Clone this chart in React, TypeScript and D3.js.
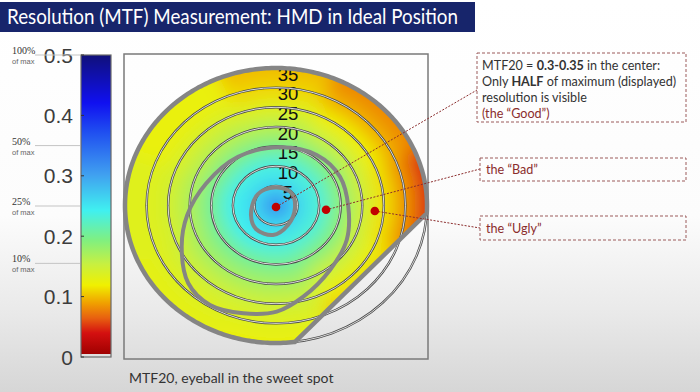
import React from 'react';
import * as d3 from 'd3';

const W = 700;
const H = 392;

// colour bar
const barTicks = [0, 0.1, 0.2, 0.3, 0.4, 0.5];
const pctLabels = ['100%', '50%', '25%', '10%'];
const pctValues = [0.5, 0.35, 0.25, 0.155];

// jet-like palette
const paletteValues = [0, 0.035, 0.06, 0.085, 0.115, 0.15, 0.19, 0.24, 0.3, 0.37, 0.42, 0.5];
const paletteColors = ['#a00000', '#d41010', '#e86010', '#f0a000', '#f0f000', '#c8f040', '#80f080', '#40f0f0', '#40a0f0', '#2050f0', '#1010f0', '#10107a'];

// MTF20 map: eccentricity bands (deg) x 8 directions, clockwise from north
const bandEdges = [0, 3, 7.5, 12.5, 17.5, 22.5, 27.5, 32.5, 40];
const mtfN = [0.33, 0.26, 0.235, 0.195, 0.16, 0.13, 0.105, 0.095];
const mtfNE = [0.33, 0.26, 0.23, 0.19, 0.15, 0.115, 0.09, 0.075];
const mtfE = [0.33, 0.26, 0.23, 0.185, 0.145, 0.11, 0.08, 0.045];
const mtfSE = [0.33, 0.26, 0.23, 0.19, 0.15, 0.12, 0.1, 0.085];
const mtfS = [0.33, 0.26, 0.235, 0.2, 0.17, 0.145, 0.13, 0.12];
const mtfSW = [0.33, 0.26, 0.24, 0.2, 0.17, 0.145, 0.13, 0.125];
const mtfW = [0.33, 0.26, 0.24, 0.2, 0.165, 0.14, 0.13, 0.13];
const mtfNW = [0.33, 0.26, 0.235, 0.195, 0.16, 0.135, 0.12, 0.12];
const mtfByDir = [mtfN, mtfNE, mtfE, mtfSE, mtfS, mtfSW, mtfW, mtfNW];

// eccentricity rings (deg)
const rings = [5, 10, 15, 20, 25, 30, 35];

// clipped edge of the field of view: direction and distance of the chord (deg)
const cutAngle = -43;
const cutDist = 26.9;

// contour loops, in degrees (x right, y up)
const smallLoop = [[0.23, 4.58], [3.48, 3.31], [4.4, -0.64], [2.78, -4.96], [-0.7, -7.51], [-4.64, -5.98], [-5.8, -2.42], [-4.64, 2.29], [-2.55, 4.07]];
const bigLoop = [[0.93, 14.81], [9.43, 12.85], [14.84, 7.33], [16.76, -0.31], [16.39, -8.78], [12.52, -16.41], [6.33, -23.21], [0.16, -27.02], [-7.58, -27.43], [-15.3, -25.32], [-20.33, -19.8], [-21.86, -10.48], [-20.6, -2.5], [-16.2, 5.6], [-8.8, 12.4]];

// annotated points (deg) and their notes
const pointNames = ['Good', 'Bad', 'Ugly'];
const pointX = [0, 11.6, 22.9];
const pointY = [-0.4, -1.1, -1.4];
const noteAnchorX = [477, 480, 480];
const noteAnchorY = [90, 169, 228];

const xScale = d3.scaleLinear().domain([-35, 35]).range([125, 427]);
const yScale = d3.scaleLinear().domain([-35, 35]).range([343, 68]);
const cScale = d3.scaleLinear().domain([0, 0.5]).range([357, 55]);
const color = d3.scaleLinear<string>().domain(paletteValues).range(paletteColors).interpolate(d3.interpolateRgb);

const cx = xScale(0);
const cy = yScale(0);
const kx = xScale(1) - xScale(0);
const ky = yScale(0) - yScale(1);

const toPx = (p: number[]): [number, number] => [xScale(p[0]), yScale(p[1])];
const loopLine = d3.line().curve(d3.curveCatmullRomClosed.alpha(0.5));

// field-of-view outline: 35 deg circle minus the chord
const rad = Math.PI / 180;
const half = Math.acos(cutDist / 35) / rad;
const a0 = cutAngle + half;
const a1 = cutAngle - half + 360;
const regionPts = d3.range(a0, a1, 1).concat([a1]).map((a) => toPx([35 * Math.cos(a * rad), 35 * Math.sin(a * rad)]));
const regionPath = d3.line()(regionPts) + 'Z';

const cellArc = d3.arc();

export default function App() {
  const cells: { d: string; fill: string }[] = [];
  mtfByDir.forEach((vals, i) => {
    vals.forEach((v, j) => {
      cells.push({
        d: cellArc({
          innerRadius: bandEdges[j],
          outerRadius: bandEdges[j + 1],
          startAngle: (i * 45 - 23) * rad,
          endAngle: (i * 45 + 23) * rad,
        }) as string,
        fill: color(v),
      });
    });
  });

  const barTop = cScale(0.5);
  const barBottom = cScale(0);

  return (
    <svg width={W} height={H} style={{ position: 'absolute', left: 0, top: 0, display: 'block' }}>
      <defs>
        <linearGradient id="bg" x1="0" y1="0" x2="0" y2="1">
          <stop offset="0" stopColor="#ffffff" />
          <stop offset="0.55" stopColor="#fcfcfc" />
          <stop offset="0.8" stopColor="#e9e9e9" />
          <stop offset="1" stopColor="#d6d6d6" />
        </linearGradient>
        <linearGradient id="bar" x1="0" y1="1" x2="0" y2="0">
          {paletteValues.map((v, i) => (
            <stop key={i} offset={v / 0.5} stopColor={paletteColors[i]} />
          ))}
        </linearGradient>
        <clipPath id="region">
          <path d={regionPath} />
        </clipPath>
        <filter id="soft" x="-20%" y="-20%" width="140%" height="140%">
          <feGaussianBlur stdDeviation="2.1" />
        </filter>
      </defs>

      <rect width={W} height={H} fill="url(#bg)" />

      {/* title banner */}
      <rect x={0} y={2} width={475} height={30} fill="#17256b" />
      <text x={7} y={24} fill="#ffffff" fontFamily="Lato" fontSize={20.5} textLength={451} lengthAdjust="spacingAndGlyphs">
        Resolution (MTF) Measurement: HMD in Ideal Position
      </text>

      {/* colour bar */}
      <rect x={81} y={barTop} width={30} height={barBottom - barTop - 3} fill="url(#bar)" />
      <rect x={81} y={barTop} width={30} height={barBottom - barTop} fill="none" stroke="#6a6a6a" strokeWidth={1.2} />
      {barTicks.map((t) => (
        <g key={t}>
          <line x1={81} x2={84} y1={cScale(t)} y2={cScale(t)} stroke="#333" strokeWidth={1} />
          <text x={73} y={cScale(t)} dy="0.36em" textAnchor="end" fontFamily="Liberation Sans" fontSize={21} fill="#3c3c3c">
            {t === 0 ? '0' : t.toFixed(1)}
          </text>
        </g>
      ))}
      {pctLabels.map((p, i) => (
        <g key={p}>
          <line x1={35} x2={80} y1={cScale(pctValues[i])} y2={cScale(pctValues[i])} stroke="#c4c4c4" strokeWidth={1} />
          <text x={12} y={cScale(pctValues[i]) - 1} fontFamily="Liberation Serif" fontSize={10} fill="#333">{p}</text>
          <text x={12} y={cScale(pctValues[i]) + 9} fontFamily="Liberation Sans" fontSize={7.5} fill="#666">of max</text>
        </g>
      ))}

      {/* plot frame */}
      <rect x={124} y={54} width={304} height={305} fill="none" stroke="#7a7a7a" strokeWidth={1.5} />

      {/* MTF20 field */}
      <g clipPath="url(#region)">
        <g transform={`translate(${cx},${cy}) scale(${kx},${ky})`} filter="url(#soft)">
          {cells.map((c, i) => (
            <path key={i} d={c.d} fill={c.fill} stroke={c.fill} strokeWidth={0.3} />
          ))}
        </g>
      </g>

      {/* ring labels */}
      {rings.map((r) => (
        <text key={r} x={cx + 12} y={yScale(r) + 6} dy="0.36em" textAnchor="middle" fontFamily="Liberation Sans" fontSize={18.5} fill="#111">
          {r}
        </text>
      ))}

      {/* eccentricity rings */}
      {rings.map((r) => (
        <g key={r}>
          <ellipse cx={cx} cy={cy} rx={kx * r} ry={ky * r} fill="none" stroke="#4a4a4a" strokeWidth={2.4} />
          <ellipse cx={cx} cy={cy} rx={kx * r} ry={ky * r} fill="none" stroke="#ffffff" strokeWidth={0.8} />
        </g>
      ))}

      {/* field outline and contour loops */}
      <path d={regionPath} fill="none" stroke="#858585" strokeWidth={4.5} strokeLinejoin="round" />
      <path d={loopLine(bigLoop.map(toPx)) as string} fill="none" stroke="#858585" strokeWidth={4} />
      <path d={loopLine(smallLoop.map(toPx)) as string} fill="none" stroke="#858585" strokeWidth={4} />

      {/* leader lines and points */}
      {pointNames.map((n, i) => (
        <line key={n} x1={xScale(pointX[i])} y1={yScale(pointY[i])} x2={noteAnchorX[i]} y2={noteAnchorY[i]} stroke="#8b2d2d" strokeWidth={1} strokeDasharray="2,1.5" />
      ))}
      {pointNames.map((n, i) => (
        <circle key={n} cx={xScale(pointX[i])} cy={yScale(pointY[i])} r={4.3} fill="#c00000" />
      ))}

      {/* notes */}
      <g fill="none" stroke="#9b5a5a" strokeWidth={1} strokeDasharray="3,2">
        <rect x={477} y={53} width={209} height={69} />
        <rect x={480} y={158} width={206} height={23} />
        <rect x={480} y={216} width={206} height={24} />
      </g>
      <g fontFamily="Lato" fontSize={12.6} fill="#333">
        <text x={482} y={70}>
          MTF20 = <tspan fontWeight="bold">0.3-0.35</tspan> in the center:
        </text>
        <text x={482} y={86}>
          Only <tspan fontWeight="bold">HALF</tspan> of maximum (displayed)
        </text>
        <text x={482} y={102}>resolution is visible</text>
        <text x={482} y={118} fill="#8b2d2d">(the “Good”)</text>
        <text x={486} y={174} fill="#8b2d2d">the “Bad”</text>
        <text x={486} y={233} fill="#8b2d2d">the “Ugly”</text>
      </g>

      <text x={129} y={383} fontFamily="Lato" fontSize={14} fill="#333">
        MTF20, eyeball in the sweet spot
      </text>
    </svg>
  );
}
